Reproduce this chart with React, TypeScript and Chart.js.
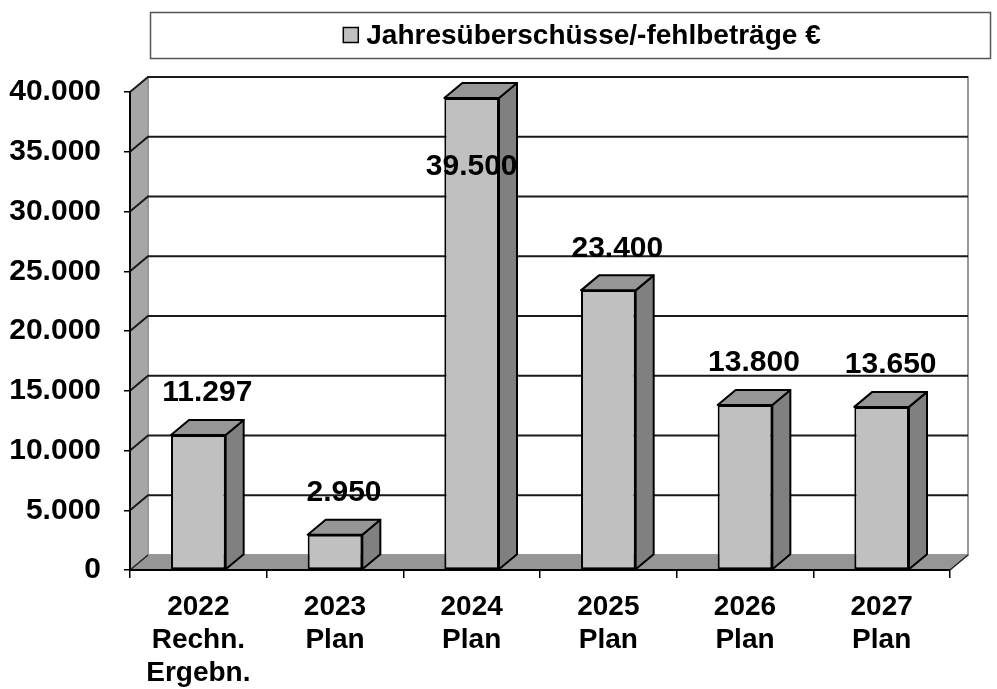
import React, { useEffect, useRef } from "react";
import { Chart, registerables } from "chart.js";

Chart.register(...registerables);

const categories: string[][] = [
  ["2022", "Rechn.", "Ergebn."],
  ["2023", "Plan"],
  ["2024", "Plan"],
  ["2025", "Plan"],
  ["2026", "Plan"],
  ["2027", "Plan"],
];
const seriesLabel = "Jahresüberschüsse/-fehlbeträge €";
const seriesValues: number[] = [11297, 2950, 39500, 23400, 13800, 13650];
const yMin = 0;
const yMax = 40000;
const yStep = 5000;

const DX = 18;
const DY = -15;
const FONT = "'Liberation Sans', Arial, sans-serif";

const fmt = (v: number) => String(Math.round(v)).replace(/\B(?=(\d{3})+(?!\d))/g, ".");

const threeD = {
  id: "threeD",
  beforeDraw(chart: any) {
    const ctx = chart.ctx;
    const { left: L, right: R, top: T, bottom: B } = chart.chartArea;
    const y = chart.scales.y;
    ctx.save();
    // back wall
    ctx.fillStyle = "#ffffff";
    ctx.fillRect(L + DX, T + DY, R - L, B - T);
    // left wall
    ctx.beginPath();
    ctx.moveTo(L, T);
    ctx.lineTo(L + DX, T + DY);
    ctx.lineTo(L + DX, B + DY);
    ctx.lineTo(L, B);
    ctx.closePath();
    ctx.fillStyle = "#a6a6a6";
    ctx.fill();
    // back wall border
    ctx.strokeStyle = "#9a9a9a";
    ctx.lineWidth = 2;
    ctx.strokeRect(L + DX, T + DY, R - L, B - T);
    ctx.beginPath();
    ctx.moveTo(L + DX, T + DY);
    ctx.lineTo(L + DX, B + DY);
    ctx.stroke();
    // gridlines
    ctx.strokeStyle = "#1a1a1a";
    ctx.lineWidth = 2;
    for (let v = yMin + yStep; v <= yMax; v += yStep) {
      const py = y.getPixelForValue(v);
      ctx.beginPath();
      ctx.moveTo(L, py);
      ctx.lineTo(L + DX, py + DY);
      ctx.lineTo(R + DX, py + DY);
      ctx.stroke();
    }
    // floor
    ctx.beginPath();
    ctx.moveTo(L, B);
    ctx.lineTo(R, B);
    ctx.lineTo(R + DX, B + DY);
    ctx.lineTo(L + DX, B + DY);
    ctx.closePath();
    ctx.fillStyle = "#969696";
    ctx.fill();
    ctx.strokeStyle = "#222";
    ctx.lineWidth = 1.5;
    ctx.beginPath();
    ctx.moveTo(L, B);
    ctx.lineTo(L + DX, B + DY);
    ctx.moveTo(R, B);
    ctx.lineTo(R + DX, B + DY);
    ctx.stroke();
    ctx.restore();

    // legend
    const fl = L + 20;
    const fr = chart.width - 7;
    const ft = 12;
    const fb = 58;
    ctx.save();
    ctx.fillStyle = "#fff";
    ctx.fillRect(fl, ft, fr - fl, fb - ft);
    ctx.strokeStyle = "#555";
    ctx.lineWidth = 1.5;
    ctx.strokeRect(fl + 0.5, ft + 0.5, fr - fl, fb - ft);
    ctx.font = `bold 28px ${FONT}`;
    const text = chart.data.datasets[0].label;
    const tw = ctx.measureText(text).width;
    const sw = 15;
    const gap = 8;
    const total = sw + gap + tw;
    const cx = (fl + fr) / 2 + 12;
    const sx = cx - total / 2;
    const cy = (ft + fb) / 2;
    ctx.fillStyle = "#c0c0c0";
    ctx.fillRect(sx, cy - sw / 2, sw, sw);
    ctx.strokeStyle = "#000";
    ctx.lineWidth = 1.5;
    ctx.strokeRect(sx, cy - sw / 2, sw, sw);
    ctx.fillStyle = "#000";
    ctx.textBaseline = "middle";
    ctx.textAlign = "left";
    ctx.fillText(text, sx + sw + gap, cy + 1);
    ctx.restore();
  },
  afterDatasetsDraw(chart: any) {
    const ctx = chart.ctx;
    const meta = chart.getDatasetMeta(0);
    const { top: T } = chart.chartArea;
    ctx.save();
    meta.data.forEach((bar: any, i: number) => {
      const { x, y, base, width } = bar.getProps(["x", "y", "base", "width"], true);
      const x1 = x - width / 2;
      const x2 = x + width / 2;
      // side face
      ctx.beginPath();
      ctx.moveTo(x2, y);
      ctx.lineTo(x2 + DX, y + DY);
      ctx.lineTo(x2 + DX, base + DY);
      ctx.lineTo(x2, base);
      ctx.closePath();
      ctx.fillStyle = "#808080";
      ctx.fill();
      ctx.strokeStyle = "#000";
      ctx.lineWidth = 2;
      ctx.lineJoin = "round";
      ctx.stroke();
      // top face
      ctx.beginPath();
      ctx.moveTo(x1, y);
      ctx.lineTo(x1 + DX, y + DY);
      ctx.lineTo(x2 + DX, y + DY);
      ctx.lineTo(x2, y);
      ctx.closePath();
      ctx.fillStyle = "#969696";
      ctx.fill();
      ctx.stroke();
      // data label
      let ly = y - 42;
      let lx = x + DX / 2;
      if (ly < T + 10) {
        ly = y + 69;
        lx = x;
      }
      ctx.fillStyle = "#000";
      ctx.font = `bold 30px ${FONT}`;
      ctx.textAlign = "center";
      ctx.textBaseline = "middle";
      ctx.fillText(fmt(seriesValues[i]), lx, ly);
    });
    ctx.restore();
  },
};

export default function App() {
  const ref = useRef<HTMLCanvasElement>(null);
  useEffect(() => {
    if (!ref.current) return;
    const chart = new Chart(ref.current, {
      type: "bar",
      data: {
        labels: categories,
        datasets: [
          {
            label: seriesLabel,
            data: seriesValues,
            backgroundColor: "#c0c0c0",
            borderColor: "#000",
            borderWidth: 2,
            borderSkipped: false,
            categoryPercentage: 1,
            barPercentage: 0.4,
          },
        ],
      },
      options: {
        responsive: false,
        animation: false,
        layout: { padding: { top: 92, right: 47, left: 0, bottom: 0 } },
        plugins: { legend: { display: false }, tooltip: { enabled: false } },
        scales: {
          x: {
            offset: true,
            grid: { drawOnChartArea: false, drawTicks: true, tickLength: 8, color: "#000", lineWidth: 1.5, offset: true },
            border: { display: true, color: "#000", width: 2 },
            ticks: {
              color: "#000",
              padding: 13,
              maxRotation: 0,
              autoSkip: false,
              font: { family: FONT, size: 28, weight: "bold", lineHeight: 1.18 },
            },
            afterFit: (s: any) => {
              s.height = 119;
            },
          },
          y: {
            min: yMin,
            max: yMax,
            grid: { drawOnChartArea: false, drawTicks: true, tickLength: 6, color: "#000", lineWidth: 1.5 },
            border: { display: true, color: "#000", width: 2 },
            ticks: {
              stepSize: yStep,
              color: "#000",
              padding: 23,
              font: { family: FONT, size: 30, weight: "bold" },
              callback: (v: any) => fmt(Number(v)),
            },
            afterFit: (s: any) => {
              s.width = 130;
            },
          },
        },
      },
      plugins: [threeD],
    });
    return () => chart.destroy();
  }, []);
  return (
    <div style={{ position: "absolute", left: 0, top: 0, width: 997, height: 689, background: "#fff" }}>
      <canvas ref={ref} width={997} height={689} />
    </div>
  );
}
